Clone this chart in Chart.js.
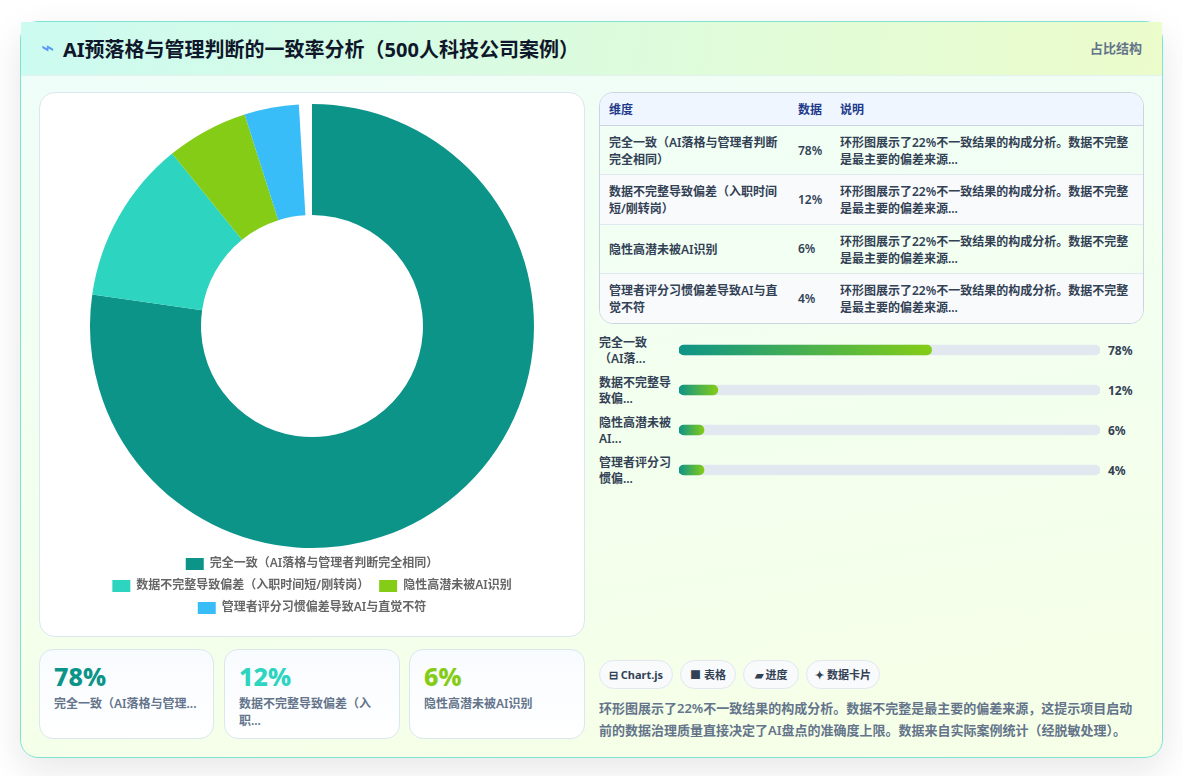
<!DOCTYPE html>
<html lang="zh-CN">
<head>
<meta charset="utf-8">
<title>AI预落格与管理判断的一致率分析</title>
<script src="https://cdn.jsdelivr.net/npm/chart.js@4"></script>
<style>
* { box-sizing: border-box; }
html, body { margin: 0; padding: 0; background: #fff; height: 779px; }
body { font-family: "Noto Sans", "Noto Sans CJK SC", sans-serif; color: #334155; }
.page { position: relative; width: 1183px; height: 776px; overflow: hidden; background: #fff; }
.panel { position: absolute; left: 20px; top: 21px; width: 1143px; height: 737px; border: 1px solid #7fe3d2; border-radius: 18px;
  background: linear-gradient(172deg, #effdfa 0%, #f2fff0 45%, #f6ffe6 100%); box-shadow: 0 12px 36px rgba(15, 23, 42, .10); }
.head { position: absolute; left: 0; top: 0; width: 1141px; height: 54px; background: linear-gradient(100deg, #ccfbf1, #ecfccb); border-bottom: 1px solid #e2f3ee; }
.head .icon { position: absolute; left: 20px; top: 6px; font: 22px/40px "DejaVu Sans", sans-serif; color: #3b82f6; opacity: .8; }
.head h1 { position: absolute; left: 42px; top: 14px; margin: 0; font-size: 20px; line-height: 27px; font-weight: 700; color: #0f172a; white-space: nowrap; }
.head span.tag { position: absolute; right: 20px; top: 17px; font-size: 13px; line-height: 18px; font-weight: 600; color: #64748b; }
.box { position: absolute; background: #fff; border: 1px solid #dbe7ee; }
.chart-box { left: 18px; top: 70px; width: 546px; height: 545px; border-radius: 16px; }
.chart-box .holder { position: absolute; left: 10px; top: 11px; width: 524px; height: 520px; }
table { position: absolute; left: 578px; top: 70px; width: 545px; height: 232px; border-collapse: separate; border-spacing: 0; border: 1px solid #cbd5e1; border-radius: 14px; overflow: hidden; font-size: 12px; line-height: 17px; font-weight: 600; table-layout: fixed; }
th, td { text-align: left; padding: 7px 9px; vertical-align: middle; border-bottom: 1px solid #e2e8f0; }
th { background: #eff6ff; color: #1e3a8a; height: 33px; border-bottom-color: #cbd5e1; }
td { height: 49px; padding-top: 8px; padding-bottom: 6px; }
td:nth-child(2) { padding-top: 7px; padding-bottom: 7px; }
tr:last-child td { border-bottom: 0; }
tbody tr:nth-child(even) td { background: #f8fafc; }
.bars { position: absolute; left: 578px; top: 308px; width: 545px; height: 160px; }
.bars .names, .bars .nums { position: absolute; top: 1px; }
.bars .names { left: 0; width: 74px; }
.bars .nums { left: 509px; width: 36px; }
.bars .row { height: 40px; display: flex; align-items: center; font-size: 12px; line-height: 16px; font-weight: 600; color: #334155; }
.bars .nums .row { font-weight: 700; }
.bars .track { position: absolute; left: 80px; top: 0; width: 421px; height: 160px; }
.stat { top: 627px; height: 90px; border-radius: 14px; background: linear-gradient(180deg, #f8fbff, #ffffff); padding: 10px 14px; }
.stat b { display: block; font-size: 25px; line-height: 32px; font-weight: 800; }
.stat p { margin: 3px 0 0; font-size: 12px; line-height: 17px; font-weight: 600; color: #64748b; }
.pills { position: absolute; left: 578px; top: 638px; display: flex; gap: 7px; }
.pills span { height: 29px; border: 1px solid #e2e8f0; border-radius: 15px; background: #f8fafc; font-size: 11px; line-height: 27px; font-weight: 700; color: #334155; white-space: nowrap; text-align: center; }
.note { position: absolute; left: 578px; top: 675px; width: 545px; margin: 0; font-size: 13px; line-height: 22px; font-weight: 600; color: #64748b; }
</style>
</head>
<body>
<div class="page">
  <div class="panel">
    <div class="head">
      <span class="icon">⌁</span>
      <h1>AI预落格与管理判断的一致率分析（500人科技公司案例）</h1>
      <span class="tag">占比结构</span>
    </div>

    <div class="box chart-box"><div class="holder"><canvas id="ringChart"></canvas></div></div>

    <table>
      <colgroup><col style="width:189px"><col style="width:42px"><col></colgroup>
      <thead><tr><th>维度</th><th>数据</th><th>说明</th></tr></thead>
      <tbody id="tableBody"></tbody>
    </table>

    <div class="bars">
      <div class="names" id="barNames"></div>
      <div class="track"><canvas id="barChart"></canvas></div>
      <div class="nums" id="barNums"></div>
    </div>

    <div id="stats"></div>

    <div class="pills">
      <span style="width:74px">⊟ Chart.js</span><span style="width:56px">■ 表格</span><span style="width:56px">▰ 进度</span><span style="width:74px">✦ 数据卡片</span>
    </div>
    <p class="note">环形图展示了22%不一致结果的构成分析。数据不完整是最主要的偏差来源，这提示项目启动前的数据治理质量直接决定了AI盘点的准确度上限。数据来自实际案例统计（经脱敏处理）。</p>
  </div>
</div>

<script>
const categories = ['完全一致（AI落格与管理者判断完全相同）', '数据不完整导致偏差（入职时间短/刚转岗）', '隐性高潜未被AI识别', '管理者评分习惯偏差导致AI与直觉不符'];
const shares = [78, 12, 6, 4];
const sliceColors = ['#0d9488', '#2dd4bf', '#84cc16', '#38bdf8'];
const barNames = ['完全一致<br>（AI落...', '数据不完整导致偏...', '隐性高潜未被AI...', '管理者评分习惯偏...'];
const statNames = ['完全一致（AI落格与管理...', '数据不完整导致偏差（入职...', '隐性高潜未被AI识别'];
const rowNote = '环形图展示了22%不一致结果的构成分析。数据不完整是最主要的偏差来源...';
const barScaleMax = 130;

Chart.defaults.font.family = '"Noto Sans", "Noto Sans CJK SC", sans-serif';
Chart.defaults.animation = false;

// table rows
document.getElementById('tableBody').innerHTML = categories.map((c, i) =>
  '<tr><td>' + c + '</td><td>' + shares[i] + '%</td><td>' + rowNote + '</td></tr>').join('');

// progress labels on both sides of the bar canvas
document.getElementById('barNames').innerHTML = barNames.map(n => '<div class="row"><span>' + n + '</span></div>').join('');
document.getElementById('barNums').innerHTML = shares.map(v => '<div class="row">' + v + '%</div>').join('');

// stat cards under the ring
const statLefts = [18, 203, 388];
const statWidths = [175, 176, 176];
document.getElementById('stats').innerHTML = statNames.map((n, i) =>
  '<div class="box stat" style="left:' + statLefts[i] + 'px;width:' + statWidths[i] + 'px"><b style="color:' + sliceColors[i] + '">' + shares[i] + '%</b><p>' + n + '</p></div>').join('');

new Chart(document.getElementById('ringChart'), {
  type: 'doughnut',
  data: {
    labels: categories,
    datasets: [{ data: shares, backgroundColor: sliceColors, borderWidth: 0 }]
  },
  options: {
    responsive: true,
    maintainAspectRatio: false,
    cutout: '50%',
    circumference: 356.6,
    layout: { padding: 0 },
    plugins: {
      tooltip: { enabled: false },
      legend: {
        position: 'bottom',
        labels: { boxWidth: 18, boxHeight: 12, padding: 10, color: '#666', font: { size: 12, weight: '600' } }
      }
    }
  }
});

const minFill = 25;
// each fill runs its gradient over its own length; the scale has no pixels until first layout
function fillGradient(ctx) {
  const chart = ctx.chart;
  const x = chart.scales.x;
  if (!x) return sliceColors[0];
  const start = x.getPixelForValue(0);
  const end = Math.max(x.getPixelForValue(shares[ctx.dataIndex]), start + minFill);
  if (!isFinite(start) || !isFinite(end)) return sliceColors[0];
  const g = chart.ctx.createLinearGradient(start, 0, end, 0);
  g.addColorStop(0, '#0d9488');
  g.addColorStop(1, '#84cc16');
  return g;
}

new Chart(document.getElementById('barChart'), {
  type: 'bar',
  data: {
    labels: barNames,
    datasets: [
      { data: shares, backgroundColor: fillGradient, minBarLength: minFill, barThickness: 10, borderRadius: 5, borderSkipped: false, grouped: false },
      { data: shares.map(() => barScaleMax), backgroundColor: '#e2e8f0', barThickness: 10, borderRadius: 5, borderSkipped: false, grouped: false }
    ]
  },
  options: {
    indexAxis: 'y',
    responsive: true,
    maintainAspectRatio: false,
    layout: { padding: 0 },
    scales: {
      x: { display: false, min: 0, max: barScaleMax },
      y: { display: false }
    },
    plugins: { legend: { display: false }, tooltip: { enabled: false } }
  }
});
</script>
</body>
</html>
